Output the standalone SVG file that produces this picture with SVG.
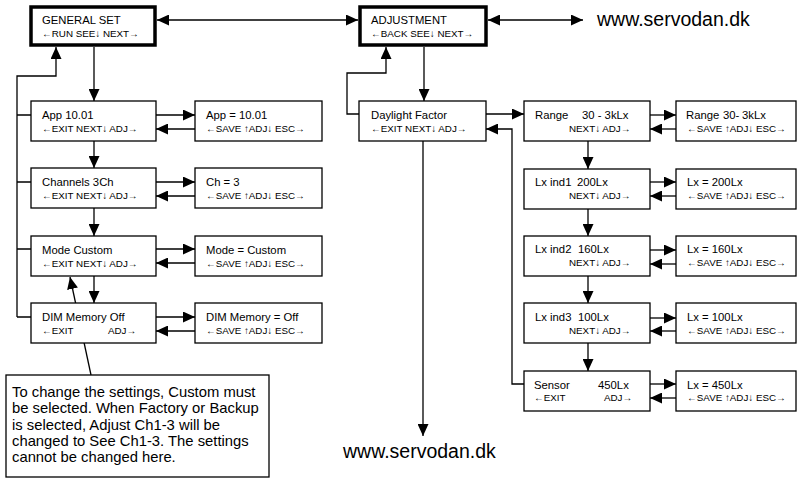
<svg xmlns="http://www.w3.org/2000/svg" width="798" height="479" viewBox="0 0 798 479">
<style>
text{font-family:"Liberation Sans",Arial,sans-serif;fill:#000}
.t1{font-size:11.3px}
.t2{font-size:9.8px}
.big{font-size:19.5px}
.note{font-size:14.8px}
.box{fill:#fff;stroke:#000;stroke-width:1.3}
.main{fill:#fff;stroke:#000;stroke-width:3.5}
.c{fill:none;stroke:#000;stroke-width:1.3}
.a{marker-end:url(#ah)}
.ab{marker-end:url(#ah);marker-start:url(#as)}
</style>
<defs>
<marker id="ah" markerUnits="userSpaceOnUse" markerWidth="13" markerHeight="11" refX="12" refY="5.5" orient="auto"><path d="M0,0 L12,5.5 L0,11 Z" fill="#000"/></marker>
<marker id="as" markerUnits="userSpaceOnUse" markerWidth="13" markerHeight="11" refX="0" refY="5.5" orient="auto"><path d="M12,0 L0,5.5 L12,11 Z" fill="#000"/></marker>
</defs>
<g id="connectors">
<line class="c ab" x1="157" y1="20" x2="358" y2="20"/>
<line class="c ab" x1="488" y1="20" x2="583" y2="20"/>
<line class="c a" x1="94" y1="47" x2="94" y2="101"/>
<path class="c a" d="M17,317 V76 H56 V47"/>
<path class="c" d="M17,115 H31 M17,182 H31 M17,249 H31 M17,317 H31"/>
<line class="c a" x1="156" y1="115" x2="195" y2="115"/>
<line class="c a" x1="195" y1="129" x2="156" y2="129"/>
<line class="c a" x1="156" y1="182" x2="195" y2="182"/>
<line class="c a" x1="195" y1="196" x2="156" y2="196"/>
<line class="c a" x1="156" y1="249" x2="195" y2="249"/>
<line class="c a" x1="195" y1="263" x2="156" y2="263"/>
<line class="c a" x1="156" y1="317" x2="195" y2="317"/>
<line class="c a" x1="195" y1="331" x2="156" y2="331"/>
<line class="c a" x1="94" y1="141" x2="94" y2="168"/>
<line class="c a" x1="94" y1="208" x2="94" y2="236"/>
<line class="c a" x1="94" y1="276" x2="94" y2="303"/>
<line class="c a" x1="91" y1="375" x2="70" y2="277"/>
<line class="c a" x1="424" y1="47" x2="424" y2="101"/>
<path class="c a" d="M359,114 H347 V73 H386 V47"/>
<line class="c a" x1="486" y1="114" x2="524" y2="114"/>
<line class="c a" x1="423" y1="141" x2="423" y2="436"/>
<path class="c a" d="M524,384 H512 V129 H486"/>
<line class="c a" x1="650" y1="115" x2="676" y2="115"/>
<line class="c a" x1="676" y1="129" x2="650" y2="129"/>
<line class="c a" x1="650" y1="182" x2="676" y2="182"/>
<line class="c a" x1="676" y1="196" x2="650" y2="196"/>
<line class="c a" x1="650" y1="250" x2="676" y2="250"/>
<line class="c a" x1="676" y1="264" x2="650" y2="264"/>
<line class="c a" x1="650" y1="318" x2="676" y2="318"/>
<line class="c a" x1="676" y1="331" x2="650" y2="331"/>
<line class="c a" x1="650" y1="384" x2="676" y2="384"/>
<line class="c a" x1="676" y1="398" x2="650" y2="398"/>
<line class="c a" x1="588" y1="141" x2="588" y2="169"/>
<line class="c a" x1="588" y1="209" x2="588" y2="236"/>
<line class="c a" x1="588" y1="276" x2="588" y2="303"/>
<line class="c a" x1="588" y1="343" x2="588" y2="371"/>
</g>
<g id="general-set"><rect class="main" x="31" y="7" width="124" height="38"/><text class="t1" x="42" y="24">GENERAL SET</text><text class="t2" x="42" y="37">←RUN   SEE↓ NEXT→</text></g>
<g id="adjustment"><rect class="main" x="360" y="7" width="126" height="38"/><text class="t1" x="371" y="24">ADJUSTMENT</text><text class="t2" x="371" y="37">←BACK SEE↓ NEXT→</text></g>
<g id="www-top"><text class="big" x="597" y="26">www.servodan.dk</text></g>
<g id="www-bottom"><text class="big" x="343" y="458">www.servodan.dk</text></g>
<g id="app"><rect class="box" x="31" y="101" width="125" height="40"/><text class="t1" x="42" y="119">App 10.01</text><text class="t2" x="42" y="132">←EXIT NEXT↓ ADJ→</text></g>
<g id="app-set"><rect class="box" x="195" y="101" width="127" height="40"/><text class="t1" x="206" y="119">App = 10.01</text><text class="t2" x="206" y="132">←SAVE ↑ADJ↓ ESC→</text></g>
<g id="channels"><rect class="box" x="31" y="168" width="125" height="40"/><text class="t1" x="42" y="186">Channels 3Ch</text><text class="t2" x="42" y="199">←EXIT NEXT↓ ADJ→</text></g>
<g id="channels-set"><rect class="box" x="195" y="168" width="127" height="40"/><text class="t1" x="206" y="186">Ch = 3</text><text class="t2" x="206" y="199">←SAVE ↑ADJ↓ ESC→</text></g>
<g id="mode"><rect class="box" x="31" y="236" width="125" height="40"/><text class="t1" x="42" y="254">Mode Custom</text><text class="t2" x="42" y="267">←EXIT NEXT↓ ADJ→</text></g>
<g id="mode-set"><rect class="box" x="195" y="236" width="127" height="40"/><text class="t1" x="206" y="254">Mode = Custom</text><text class="t2" x="206" y="267">←SAVE ↑ADJ↓ ESC→</text></g>
<g id="dim"><rect class="box" x="31" y="303" width="125" height="40"/><text class="t1" x="42" y="321">DIM Memory Off</text><text class="t2" x="42" y="334">←EXIT</text><text class="t2" x="108" y="334">ADJ→</text></g>
<g id="dim-set"><rect class="box" x="195" y="303" width="127" height="40"/><text class="t1" x="206" y="321">DIM Memory = Off</text><text class="t2" x="206" y="334">←SAVE ↑ADJ↓ ESC→</text></g>
<g id="note"><rect class="box" x="6" y="375" width="263" height="102"/>
<text class="note" x="12" y="397">To change the settings, Custom must</text>
<text class="note" x="12" y="413.3">be selected. When Factory or Backup</text>
<text class="note" x="12" y="429.6">is selected, Adjust Ch1-3 will be</text>
<text class="note" x="12" y="445.9">changed to See Ch1-3. The settings</text>
<text class="note" x="12" y="462.2">cannot be changed here.</text></g>
<g id="daylight"><rect class="box" x="359" y="101" width="127" height="40"/><text class="t1" x="371" y="119">Daylight Factor</text><text class="t2" x="371" y="132">←EXIT NEXT↓ ADJ→</text></g>
<g id="range"><rect class="box" x="524" y="101" width="126" height="40"/><text class="t1" x="535" y="119">Range</text><text class="t1" x="582" y="119">30 - 3kLx</text><text class="t2" x="569" y="132">NEXT↓ ADJ→</text></g>
<g id="range-set"><rect class="box" x="676" y="101" width="120" height="40"/><text class="t1" x="686" y="119">Range</text><text class="t1" x="723" y="119">30-</text><text class="t1" x="742" y="119">3kLx</text><text class="t2" x="687" y="132">←SAVE ↑ADJ↓ ESC→</text></g>
<g id="lx1"><rect class="box" x="524" y="169" width="126" height="40"/><text class="t1" x="535" y="186">Lx ind1</text><text class="t1" x="577" y="186">200Lx</text><text class="t2" x="569" y="199">NEXT↓ ADJ→</text></g>
<g id="lx1-set"><rect class="box" x="676" y="169" width="120" height="40"/><text class="t1" x="687" y="186">Lx = 200Lx</text><text class="t2" x="687" y="199">←SAVE ↑ADJ↓ ESC→</text></g>
<g id="lx2"><rect class="box" x="524" y="236" width="126" height="40"/><text class="t1" x="535" y="253">Lx ind2</text><text class="t1" x="578" y="253">160Lx</text><text class="t2" x="569" y="266">NEXT↓ ADJ→</text></g>
<g id="lx2-set"><rect class="box" x="676" y="236" width="120" height="40"/><text class="t1" x="687" y="253">Lx = 160Lx</text><text class="t2" x="687" y="266">←SAVE ↑ADJ↓ ESC→</text></g>
<g id="lx3"><rect class="box" x="524" y="303" width="126" height="40"/><text class="t1" x="535" y="321">Lx ind3</text><text class="t1" x="578" y="321">100Lx</text><text class="t2" x="569" y="334">NEXT↓ ADJ→</text></g>
<g id="lx3-set"><rect class="box" x="676" y="303" width="120" height="40"/><text class="t1" x="687" y="321">Lx = 100Lx</text><text class="t2" x="687" y="334">←SAVE ↑ADJ↓ ESC→</text></g>
<g id="sensor"><rect class="box" x="524" y="371" width="126" height="40"/><text class="t1" x="534" y="389">Sensor</text><text class="t1" x="598" y="389">450Lx</text><text class="t2" x="534" y="401">←EXIT</text><text class="t2" x="604" y="401">ADJ→</text></g>
<g id="sensor-set"><rect class="box" x="676" y="371" width="120" height="40"/><text class="t1" x="687" y="389">Lx = 450Lx</text><text class="t2" x="687" y="401">←SAVE ↑ADJ↓ ESC→</text></g>
</svg>
